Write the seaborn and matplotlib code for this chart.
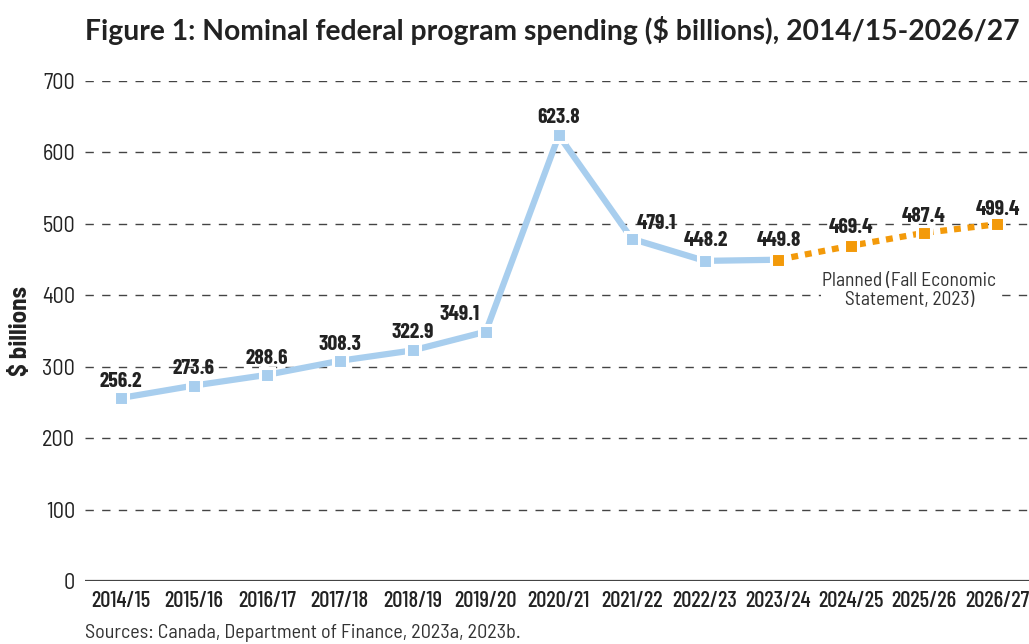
import numpy as np
import pandas as pd
import matplotlib
matplotlib.use("Agg")
import matplotlib.pyplot as plt
import seaborn as sns

years = ["2014/15", "2015/16", "2016/17", "2017/18", "2018/19", "2019/20", "2020/21",
         "2021/22", "2022/23", "2023/24", "2024/25", "2025/26", "2026/27"]
spending = [256.2, 273.6, 288.6, 308.3, 322.9, 349.1, 623.8,
            479.1, 448.2, 449.8, 469.4, 487.4, 499.4]
n_actual = 10  # last actual year is 2023/24, planned starts from there

sns.set_theme(style="white")
COND = ["Barlow Condensed", "Roboto Condensed", "IBM Plex Sans Condensed", "DejaVu Sans"]
SEMI = ["Barlow Semi Condensed", "Roboto Condensed", "DejaVu Sans"]
plt.rcParams["font.family"] = COND

df = pd.DataFrame({"idx": np.arange(len(years)), "year": years, "value": spending})
actual = df.iloc[:n_actual]
planned = df.iloc[n_actual - 1:]

BLUE = "#A8CEEE"
ORANGE = "#F39A0A"
DARK = "#222222"

fig = plt.figure(figsize=(10.29, 6.44), dpi=100)
ax = fig.add_axes([0.0826, 0.0978, 0.9174, 0.7764])

sns.lineplot(data=actual, x="idx", y="value", ax=ax, color=BLUE, lw=4.5,
             marker="s", markersize=10.5, markeredgecolor="white", markeredgewidth=2.2,
             zorder=3)
sns.lineplot(data=planned, x="idx", y="value", ax=ax, color=ORANGE, lw=4.5,
             linestyle=(0, (1.1, 1.1)), zorder=3)
sns.lineplot(data=planned, x="idx", y="value", ax=ax, color=ORANGE, lw=0,
             marker="s", markersize=10.5, markeredgecolor="white", markeredgewidth=2.2,
             zorder=4)

# label offsets in points (dx, dy)
offsets = [(0, 12), (0, 12), (0, 12), (0, 12), (0, 13), (-19, 12), (0, 13),
           (18, 11), (1, 15), (1, 14), (0, 13), (0, 12), (1, 11)]
for i, (v, (dx, dy)) in enumerate(zip(spending, offsets)):
    ax.annotate(f"{v:.1f}", (i, v), xytext=(dx, dy), textcoords="offset points",
                ha="center", va="center", fontsize=15.5, fontweight="bold",
                color=DARK, zorder=5)

ax.text(10.8, 407, "Planned (Fall Economic\nStatement, 2023)", ha="center", va="center",
        fontsize=14, color="#333333", linespacing=1.1, zorder=5, family=SEMI,
        bbox=dict(facecolor="white", edgecolor="none", pad=1))

ax.set_xlim(-0.49, 12.44)
ax.set_ylim(0, 700)
ax.set_xticks(df["idx"])
ax.set_xticklabels(years)
ax.set_yticks(range(0, 701, 100))
for y in range(100, 701, 100):
    ax.axhline(y, color="#444444", lw=1, dashes=(6, 6), zorder=1)
ax.axhline(0, color="#444444", lw=1.6, zorder=1)

for s in ax.spines.values():
    s.set_visible(False)
ax.tick_params(axis="both", length=0, labelcolor=DARK)
ax.tick_params(axis="x", pad=7, labelsize=16.3)
ax.tick_params(axis="y", pad=7, labelsize=16)
for lab in ax.get_xticklabels():
    lab.set_fontweight("medium")
for lab in ax.get_yticklabels():
    lab.set_family(SEMI)
ax.set_xlabel("")
ax.set_ylabel("$ billions", fontsize=18, fontweight="bold", color=DARK, family=SEMI)
ax.yaxis.set_label_coords(-0.056, 0.5)

fig.text(0.537, 0.953, "Figure 1: Nominal federal program spending ($ billions), 2014/15-2026/27",
         ha="center", va="center", fontsize=20.3, fontweight="bold", color=DARK,
         family=["Lato", "DejaVu Sans"])
fig.text(0.0826, 0.017, "Sources: Canada, Department of Finance, 2023a, 2023b.",
         ha="left", va="center", fontsize=14.5, color="#333333", family=SEMI)

fig.savefig("out.png", dpi=100)
